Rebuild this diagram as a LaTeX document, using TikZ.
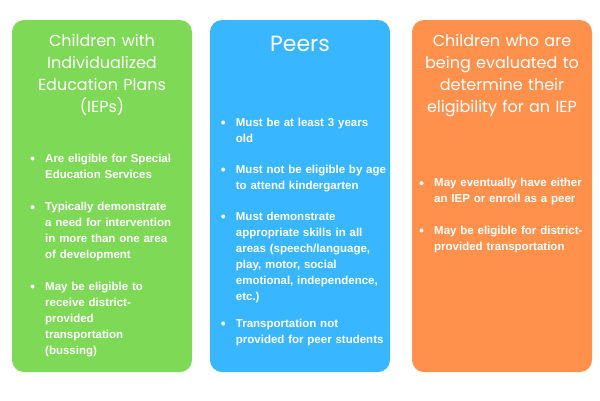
\documentclass[tikz,border=0pt]{standalone}
\usepackage{fontspec}
\setmainfont{Liberation Sans}
\newfontfamily\titlefont{Poppins}

\definecolor{iepgreen}{HTML}{7ED957}
\definecolor{peerblue}{HTML}{38B6FF}
\definecolor{evalorange}{HTML}{FF914D}

\tikzset{
  panel/.style={fill=#1, draw=none, rounded corners=12pt},
  paneltitle/.style={text=white, font=\titlefont\fontsize{16}{21.8}\selectfont,
    align=center, text width=175pt, anchor=base, inner sep=0pt},
  itemtext/.style={text=white, font=\bfseries\fontsize{11.5}{16}\selectfont,
    align=left, text width=160pt, anchor=base west, inner sep=0pt},
  dot/.style={circle, fill=white, minimum size=4pt, inner sep=0pt}
}

\begin{document}
\begin{tikzpicture}[x=1pt, y=-1pt]

    % white page, 600 x 400
    \useasboundingbox[fill=white] (0,0) rectangle (600,400);

    % the three coloured panels
    \fill[panel=iepgreen] (12,20) rectangle (192,372);
    \fill[panel=peerblue] (210,20) rectangle (390,372);
    \fill[panel=evalorange] (412,20) rectangle (592,372);

    % panel titles
    \node[paneltitle] (ieptitle) at (102,46.7)
      {Children with\\Individualized\\Education Plans\\(IEPs)};
    \node[paneltitle, font=\titlefont\fontsize{22}{26}\selectfont] (peertitle) at (300,51.7) {Peers};
    \node[paneltitle] (evaltitle) at (502,46.7)
      {Children who are\\being evaluated to\\determine their\\eligibility for an IEP};

    % IEP items
    \node[itemtext] (iep1) at (45,162) {Are eligible for Special\\Education Services};
    \node[dot] (iep1dot) at ([xshift=-12.5pt,yshift=3.5pt]iep1.base west) {};
    \node[itemtext] (iep2) at (45,210.7)
      {Typically demonstrate\\a need for intervention\\in more than one area\\of development};
    \node[dot] (iep2dot) at ([xshift=-12.5pt,yshift=3.5pt]iep2.base west) {};
    \node[itemtext] (iep3) at (45,290)
      {May be eligible to\\receive district-\\provided\\transportation\\(bussing)};
    \node[dot] (iep3dot) at ([xshift=-12.5pt,yshift=3.5pt]iep3.base west) {};

    % Peer items
    \node[itemtext] (peer1) at (235.7,126) {Must be at least 3 years\\old};
    \node[dot] (peer1dot) at ([xshift=-12.5pt,yshift=3.5pt]peer1.base west) {};
    \node[itemtext] (peer2) at (235.7,173) {Must not be eligible by age\\to attend kindergarten};
    \node[dot] (peer2dot) at ([xshift=-12.5pt,yshift=3.5pt]peer2.base west) {};
    \node[itemtext] (peer3) at (235.7,220)
      {Must demonstrate\\appropriate skills in all\\areas (speech/language,\\play, motor, social\\emotional, independence,\\etc.)};
    \node[dot] (peer3dot) at ([xshift=-12.5pt,yshift=3.5pt]peer3.base west) {};
    \node[itemtext] (peer4) at (235.7,327) {Transportation not\\provided for peer students};
    \node[dot] (peer4dot) at ([xshift=-12.5pt,yshift=3.5pt]peer4.base west) {};

    % Evaluation items
    \node[itemtext] (eval1) at (434,186.7) {May eventually have either\\an IEP or enroll as a peer};
    \node[dot] (eval1dot) at ([xshift=-12.5pt,yshift=3.5pt]eval1.base west) {};
    \node[itemtext] (eval2) at (434,234) {May be eligible for district-\\provided transportation};
    \node[dot] (eval2dot) at ([xshift=-12.5pt,yshift=3.5pt]eval2.base west) {};

\end{tikzpicture}
\end{document}
